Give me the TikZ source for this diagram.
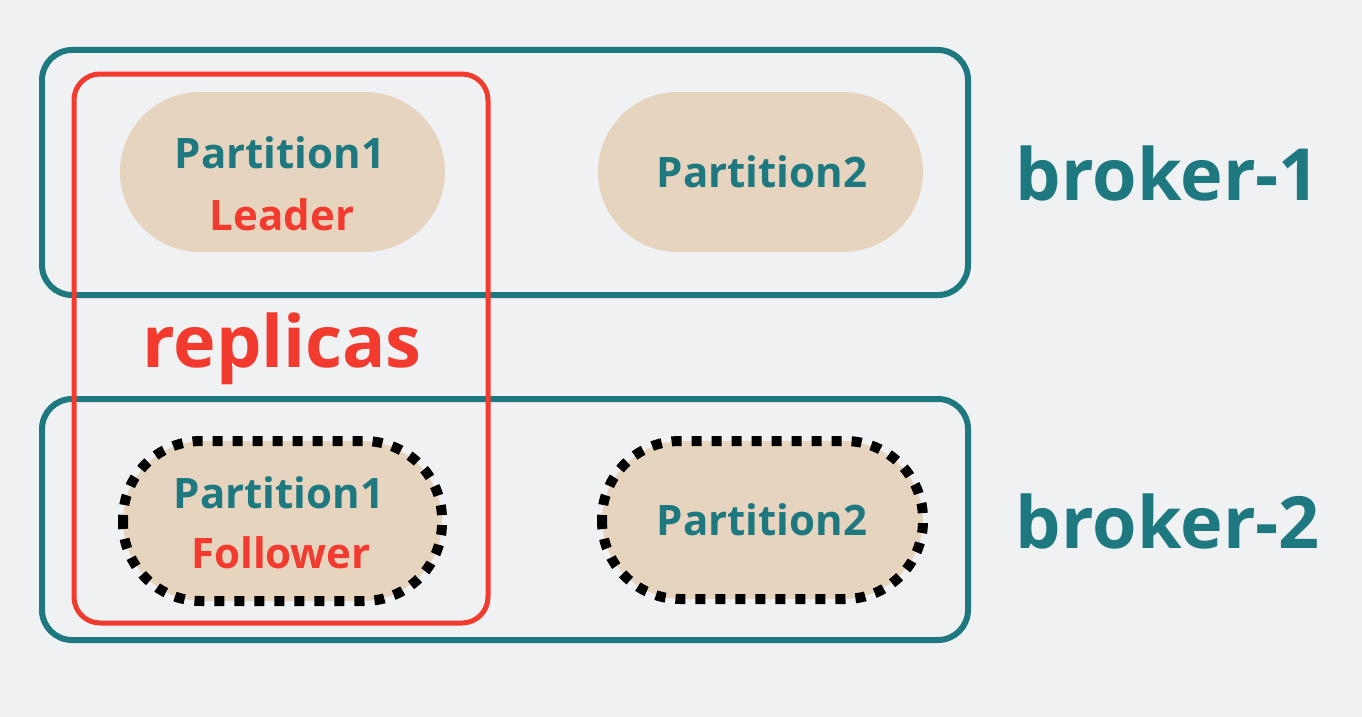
\documentclass[tikz,border=0pt]{standalone}
\usepackage{fontspec}
\setmainfont{Open Sans}
\definecolor{bg}{HTML}{F0F1F3}
\definecolor{teal}{HTML}{1E7880}
\definecolor{redc}{HTML}{F23B2E}
\definecolor{pill}{HTML}{E6D4BF}
\begin{document}
\begin{tikzpicture}[x=1pt,y=-1pt,
  brokerbox/.style={draw=teal,line width=6pt,rounded corners=30pt},
  replicabox/.style={draw=redc,line width=5pt,rounded corners=26pt},
  pillshape/.style={fill=pill,rounded corners=80pt},
  dotborder/.style={draw=black,line width=10pt,dash pattern=on 10pt off 10pt,rounded corners=78pt},
  tealtxt/.style={text=teal,font=\bfseries\fontsize{42}{50}\selectfont,anchor=base,inner sep=0pt},
  redtxt/.style={text=redc,font=\bfseries\fontsize{42}{50}\selectfont,anchor=base,inner sep=0pt},
  bigtxt/.style={font=\bfseries\fontsize{72}{86}\selectfont,anchor=base,inner sep=0pt}]
\fill[bg] (0,0) rectangle (1362,717);
\useasboundingbox (0,0) rectangle (1362,717);
% broker boxes
\draw[brokerbox] (42,50) rectangle (968,295);
\draw[brokerbox] (42,399) rectangle (968,640);
% pills
\fill[pillshape] (120,92) rectangle (445,252);
\fill[pillshape] (598,92) rectangle (923,252);
\fill[pillshape] (123,441) rectangle (442,601);
\draw[dotborder] (123,441) rectangle (442,601);
\fill[pillshape] (602,441) rectangle (923,599);
\draw[dotborder] (602,441) rectangle (923,599);
% replicas box
\draw[replicabox] (74,74) rectangle (488,623);
% texts
\node[tealtxt] (p1l) at (280,168) {Partition1};
\node[redtxt] (lead) at (282,230) {Leader};
\node[tealtxt] (p2t) at (762,187) {Partition2};
\node[tealtxt] (p1f) at (279,508) {Partition1};
\node[redtxt] (foll) at (281,568) {Follower};
\node[tealtxt] (p2b) at (762,535) {Partition2};
\node[bigtxt,text=redc] (rep) at (282,367) {replicas};
\node[bigtxt,text=teal] (b1) at (1168,200) {broker-1};
\node[bigtxt,text=teal] (b2) at (1168,548) {broker-2};
\end{tikzpicture}
\end{document}
